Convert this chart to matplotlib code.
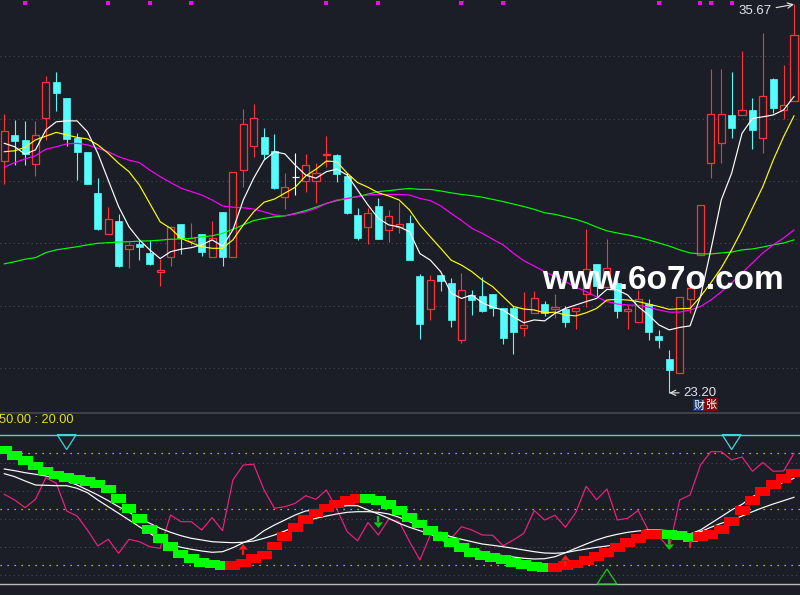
import matplotlib
matplotlib.use('Agg')
import matplotlib.pyplot as plt
from matplotlib.patches import Rectangle, Polygon
from matplotlib.transforms import blended_transform_factory

# ---- daily K-line data, bar index 0..76 ----
opens = [30.65, 31.48, 31.32, 30.54, 32.01, 33.17, 32.66, 31.39, 30.93, 29.61,
         28.29, 28.72, 27.81, 27.99, 27.69, 27.09, 27.57, 28.62, 28.08, 28.30,
         27.57, 29.00, 27.55, 30.34, 31.13, 31.41, 30.96, 29.48, 30.12, 29.99,
         29.99, 30.83, 30.83, 30.16, 28.91, 28.51, 29.20, 28.42, 28.51, 28.65,
         26.95, 25.88, 26.98, 26.73, 24.91, 26.33, 26.31, 26.37, 25.92, 25.92,
         25.27, 25.75, 26.05, 25.90, 25.88, 25.84, 26.36, 27.34, 26.61, 26.73,
         25.84, 25.48, 26.04, 25.03, 24.29, 23.85, 26.20, 27.62, 30.59, 31.21,
         32.12, 32.11, 32.28, 31.37, 33.27, 32.29, 32.58]
highs = [32.15, 31.96, 31.93, 31.93, 33.37, 33.49, 32.66, 31.54, 30.93, 30.10,
         29.17, 28.94, 28.05, 28.11, 28.11, 27.50, 28.57, 28.62, 28.65, 28.30,
         28.72, 29.00, 30.28, 32.31, 32.47, 31.70, 31.51, 30.26, 30.91, 30.87,
         30.58, 31.44, 30.88, 30.27, 29.13, 29.13, 29.45, 29.07, 29.33, 28.90,
         27.01, 26.98, 26.98, 26.88, 27.04, 26.50, 26.92, 26.37, 25.92, 26.00,
         26.44, 26.47, 26.15, 26.36, 25.99, 25.91, 28.46, 27.34, 28.13, 26.82,
         26.02, 26.50, 26.20, 25.22, 24.57, 26.29, 26.63, 29.23, 33.60, 33.60,
         33.50, 34.17, 32.65, 34.75, 33.31, 33.72, 35.67]
lows = [29.90, 30.51, 30.51, 30.17, 31.32, 32.26, 31.13, 30.03, 29.91, 28.43,
        28.29, 27.25, 27.22, 27.46, 27.30, 26.64, 27.28, 27.65, 27.95, 27.60,
        27.57, 27.28, 27.55, 29.82, 30.78, 30.71, 29.73, 29.11, 29.56, 29.66,
        29.30, 30.46, 29.98, 28.93, 28.12, 27.99, 28.15, 28.05, 28.34, 27.45,
        24.94, 25.55, 26.48, 25.32, 24.81, 25.71, 25.80, 25.67, 24.78, 24.46,
        25.03, 25.75, 25.68, 25.61, 25.32, 25.24, 25.96, 26.31, 26.61, 25.61,
        25.24, 25.48, 24.90, 24.63, 23.20, 23.83, 25.75, 27.62, 30.11, 30.57,
        31.37, 32.11, 31.04, 30.91, 32.17, 31.98, 32.58]
closes = [31.61, 31.28, 30.87, 31.47, 33.17, 32.83, 31.36, 30.94, 29.91, 28.46,
          28.77, 27.28, 27.94, 27.89, 27.34, 27.14, 28.51, 28.18, 28.16, 27.72,
          28.16, 27.57, 30.28, 31.83, 32.01, 30.88, 29.78, 29.80, 30.12, 30.50,
          30.25, 30.87, 30.23, 28.98, 28.18, 28.96, 28.15, 28.87, 28.61, 27.45,
          25.41, 26.82, 26.80, 25.55, 26.49, 26.18, 25.84, 25.93, 24.97, 25.16,
          25.37, 26.23, 25.75, 25.96, 25.48, 25.91, 27.18, 26.64, 27.20, 25.84,
          25.90, 26.20, 25.14, 24.89, 23.93, 26.29, 26.56, 29.23, 32.14, 32.14,
          31.71, 32.27, 31.65, 32.72, 32.35, 32.43, 34.69]

# moving averages
ma5 = [31.21, 31.10, 30.86, 31.00, 31.64, 31.90, 31.93, 31.93, 31.58, 30.89,
       30.03, 29.18, 28.53, 28.11, 27.79, 27.51, 27.73, 27.81, 27.86, 27.95,
       28.11, 27.91, 28.43, 29.39, 30.09, 30.67, 30.94, 30.87, 30.51, 30.19,
       30.09, 30.30, 30.38, 30.19, 29.71, 29.23, 28.80, 28.59, 28.53, 28.37,
       27.67, 27.46, 27.09, 26.40, 26.23, 26.34, 26.09, 25.95, 25.86, 25.64,
       25.45, 25.54, 25.51, 25.75, 25.91, 26.02, 26.13, 26.23, 26.52, 26.50,
       26.34, 25.97, 25.70, 25.38, 25.22, 25.30, 25.35, 26.29, 27.79, 29.39,
       30.25, 31.53, 32.01, 32.06, 32.12, 32.28, 32.71]
ma10 = [30.94, 30.97, 31.08, 31.32, 31.44, 31.56, 31.48, 31.40, 31.35, 31.16,
        30.89, 30.57, 30.30, 29.87, 29.28, 28.69, 28.48, 28.16, 28.02, 27.89,
        27.84, 27.84, 28.11, 28.59, 29.01, 29.32, 29.42, 29.61, 29.80, 30.16,
        30.38, 30.64, 30.62, 30.25, 29.95, 29.80, 29.62, 29.52, 29.39, 29.07,
        28.59, 28.21, 27.84, 27.46, 27.30, 27.09, 26.82, 26.61, 26.29, 25.97,
        25.89, 25.86, 25.77, 25.79, 25.70, 25.67, 25.77, 25.91, 26.18, 26.20,
        26.18, 26.13, 26.05, 25.97, 25.88, 25.90, 25.91, 26.29, 26.73, 27.21,
        27.79, 28.43, 29.13, 29.82, 30.67, 31.42, 32.09]
ma30 = [30.44, 30.59, 30.71, 30.81, 31.02, 31.10, 31.19, 31.21, 31.16, 31.05,
        30.94, 30.78, 30.67, 30.59, 30.35, 30.14, 29.95, 29.77, 29.66, 29.55,
        29.39, 29.20, 29.16, 29.14, 29.10, 29.01, 28.91, 28.88, 28.94, 29.01,
        29.12, 29.28, 29.39, 29.44, 29.50, 29.55, 29.57, 29.57, 29.57, 29.55,
        29.44, 29.37, 29.20, 28.96, 28.73, 28.48, 28.32, 28.13, 27.95, 27.68,
        27.44, 27.27, 27.09, 26.93, 26.77, 26.59, 26.45, 26.28, 26.13, 26.05,
        26.02, 26.01, 25.95, 25.86, 25.79, 25.79, 25.86, 25.97, 26.18, 26.44,
        26.73, 27.05, 27.37, 27.69, 27.95, 28.17, 28.43]
ma60 = [27.34, 27.41, 27.49, 27.54, 27.70, 27.79, 27.84, 27.89, 27.95, 28.00,
        28.02, 28.04, 28.05, 28.07, 28.08, 28.10, 28.13, 28.14, 28.16, 28.21,
        28.24, 28.32, 28.45, 28.59, 28.73, 28.80, 28.85, 28.88, 28.96, 29.05,
        29.16, 29.28, 29.37, 29.44, 29.50, 29.58, 29.66, 29.69, 29.73, 29.76,
        29.73, 29.73, 29.68, 29.62, 29.57, 29.53, 29.48, 29.41, 29.34, 29.26,
        29.18, 29.09, 28.98, 28.93, 28.85, 28.77, 28.66, 28.52, 28.40, 28.33,
        28.27, 28.20, 28.11, 28.01, 27.91, 27.79, 27.69, 27.66, 27.66, 27.69,
        27.72, 27.79, 27.82, 27.88, 27.95, 28.01, 28.11]

price_grid = [24, 26, 28, 30, 32, 34]
event_idx = [2, 10, 14, 18, 31, 36, 44, 48, 63, 67, 68, 70]

# ---- lower indicator panel ----
band = [81.76, 78.92, 76.24, 73.19, 70.51, 68.37, 67.14, 65.85, 64.78, 63.55,
        60.87, 55.89, 50.54, 45.18, 39.29, 34.25, 29.97, 26.06, 23.54, 21.61,
        20.70, 20.01, 20.01, 21.24, 23.54, 25.52, 30.34, 35.32, 40.15, 44.54,
        48.02, 50.70, 52.84, 54.61, 55.52, 55.52, 54.61, 52.57, 49.36, 45.72,
        42.13, 38.48, 35.27, 32.11, 29.38, 26.97, 25.15, 24.08, 23.01, 21.61,
        20.54, 19.52, 18.88, 18.88, 19.85, 20.70, 22.42, 24.56, 26.81, 29.49,
        32.27, 34.36, 36.34, 36.34, 36.29, 35.81, 35.00, 35.22, 36.34, 39.18,
        43.57, 49.20, 54.87, 59.69, 63.44, 66.60, 69.44]
band_state = ("GGGGGGGGGG" "GGGGGGGGGG" "GG"
              "RRRRRRRRRR" "RRR"
              "GGGGGGGGGG" "GGGGGGGG"
              "RRRRRRRRRR" "R"
              "GGG"
              "RRRRRRRRRR")
osc = [58.03, 54.98, 50.86, 55.36, 66.92, 63.93, 49.09, 46.41, 38.91, 30.34,
       33.93, 26.43, 33.93, 32.65, 29.97, 29.11, 46.95, 43.36, 43.36, 38.91,
       45.50, 38.54, 65.69, 73.73, 74.10, 60.34, 50.54, 51.39, 53.21, 57.28,
       55.36, 60.34, 50.16, 38.00, 33.13, 42.93, 36.23, 44.75, 43.36, 32.70,
       22.85, 36.23, 38.00, 34.47, 40.68, 38.91, 36.23, 36.07, 30.50, 33.56,
       37.15, 49.36, 44.27, 46.79, 40.36, 48.29, 62.32, 55.14, 60.87, 44.27,
       45.18, 49.36, 38.54, 35.32, 29.27, 54.98, 57.66, 73.73, 80.85, 80.85,
       76.40, 78.01, 70.35, 75.07, 70.35, 70.51, 79.99]
fast_line = [69.07, 67.46, 65.16, 63.01, 62.85, 62.64, 62.64, 61.25, 58.89, 54.98,
             51.39, 47.86, 44.27, 40.68, 37.15, 33.56, 31.25, 29.65, 28.58, 27.67,
             26.97, 27.29, 29.43, 32.11, 34.47, 38.54, 41.59, 44.27, 46.95, 49.09,
             49.63, 50.54, 51.39, 51.93, 51.93, 49.63, 47.48, 45.18, 42.50, 40.36,
             38.54, 36.77, 33.56, 31.79, 29.97, 28.58, 27.29, 26.06, 25.15, 24.45,
             23.76, 23.38, 23.54, 24.61, 26.75, 29.11, 31.41, 33.56, 35.32, 36.61,
             37.68, 38.38, 38.91, 38.91, 38.54, 37.68, 36.77, 38.91, 42.50, 46.04,
             49.63, 52.68, 56.75, 59.43, 62.10, 64.46, 66.60]
slow_line = [71.58, 70.67, 69.60, 68.75, 67.84, 66.60, 65.16, 63.01, 60.34, 57.66,
             54.61, 51.39, 48.39, 45.18, 42.50, 39.82, 37.68, 35.86, 34.47, 33.56,
             32.65, 32.33, 32.11, 32.33, 33.02, 34.47, 36.23, 38.38, 40.68, 43.73,
             45.18, 46.41, 47.48, 48.39, 48.71, 48.71, 48.39, 47.48, 45.72, 43.36,
             41.22, 38.91, 37.15, 35.32, 33.93, 32.65, 31.41, 30.72, 29.97, 29.11,
             28.20, 27.29, 26.59, 26.43, 26.75, 27.83, 28.74, 29.65, 30.34, 31.25,
             32.65, 33.93, 35.00, 35.70, 36.23, 36.40, 36.61, 38.00, 40.36, 42.50,
             44.27, 46.41, 48.71, 50.86, 52.84, 54.61, 56.43]

buy_idx = [23, 54]
buy_level = [31.4, 25.5]
sell_idx = [36, 64]
sell_level = [40.0, 28.2]
tick_idx = [66]
tick_level = [32.5]
top_tri_idx = [6, 70]
bottom_tri_idx = [58]

BG = '#1b1e27'
RED = '#ff3333'
CYAN = '#54fcfc'
GRID = '#474b56'
W, H = 800, 595

fig = plt.figure(figsize=(8, 5.95), dpi=100, facecolor=BG)
ax1 = fig.add_axes([0, 183 / H, 1, 412 / H])
ax2 = fig.add_axes([0, 0, 1, 183 / H])
for ax in (ax1, ax2):
    ax.set_facecolor(BG)
    ax.set_xlim(-0.414, 76.58)
    ax.set_xticks([])
    ax.set_yticks([])
    for s in ax.spines.values():
        s.set_visible(False)
ax1.set_ylim(22.585, 35.81)
ax2.set_ylim(4.1, 102.1)

# main panel grid
for g in price_grid:
    ax1.axhline(g, color=GRID, lw=0.8, dashes=(1, 3.0), zorder=0)

# candles
bw = 0.68
for i in range(len(opens)):
    o, h, l, c = opens[i], highs[i], lows[i], closes[i]
    if c > o:
        ax1.vlines(i, c, h, color=RED, lw=0.8, zorder=2)
        ax1.vlines(i, l, o, color=RED, lw=0.8, zorder=2)
        ax1.add_patch(Rectangle((i - bw / 2, o), bw, c - o, facecolor=BG,
                                edgecolor=RED, lw=0.9, zorder=3))
    elif c < o:
        ax1.vlines(i, l, h, color=CYAN, lw=0.8, zorder=2)
        ax1.add_patch(Rectangle((i - bw / 2, c), bw, o - c, facecolor=CYAN,
                                edgecolor=CYAN, lw=0.5, zorder=3))
    else:
        ax1.vlines(i, l, h, color='white', lw=0.8, zorder=2)
        ax1.hlines(o, i - bw / 2, i + bw / 2, color='white', lw=0.9, zorder=3)

x = list(range(len(opens)))
ax1.plot(x, ma60, color='#00ff00', lw=0.85, zorder=4)
ax1.plot(x, ma30, color='#ff00ff', lw=0.85, zorder=4)
ax1.plot(x, ma10, color='#ffff00', lw=0.85, zorder=4)
ax1.plot(x, ma5, color='#ffffff', lw=0.85, zorder=4)

# event markers along the top edge
tr = blended_transform_factory(ax1.transData, ax1.transAxes)
ax1.scatter(event_idx, [0.9925] * len(event_idx), transform=tr, marker='s',
            s=7, color='#ff00ff', lw=0, zorder=5)

# high / low labels
hi = highs.index(max(highs))
lo = lows.index(min(lows))
ax1.annotate('%.2f' % highs[hi], xy=(hi, highs[hi]), xytext=(-22, -7),
             textcoords='offset pixels', ha='right', va='center',
             color='#dfe6f0', fontsize=9.5, family='Liberation Sans',
             arrowprops=dict(arrowstyle='->', color='#e8e8e8', lw=0.8,
                             shrinkA=1, shrinkB=0), zorder=6)
ax1.annotate('%.2f' % lows[lo], xy=(lo, lows[lo]), xytext=(14, 0),
             textcoords='offset pixels', ha='left', va='center',
             color='#dfe6f0', fontsize=9.5, family='Liberation Sans',
             arrowprops=dict(arrowstyle='->', color='#e8e8e8', lw=0.8,
                             shrinkA=1, shrinkB=0), zorder=6)

# ---- lower panel ----
for g in [75, 60, 45, 30, 15]:
    ax2.axhline(g, color=GRID, lw=0.8, dashes=(1, 3.0), zorder=0)
for g in [80, 50, 20]:
    ax2.axhline(g, color='#e6e600', lw=0.9, dashes=(1, 4.6), zorder=0)
ax2.axhline(90, color='#3fd8d8', lw=1.0, zorder=1)
ax2.axhline(10, color='#b8b8b8', lw=1.0, zorder=1)
ax2.axhline(101.7, color='#444853', lw=1.2, zorder=1)

ax2.plot(x, osc, color='#f0207f', lw=0.85, zorder=2)
ax2.plot(x, slow_line, color='white', lw=0.85, zorder=2)
ax2.plot(x, fast_line, color='white', lw=0.85, zorder=2)

for i, v in enumerate(band):
    col = '#00ff00' if band_state[i] == 'G' else '#ff0000'
    ax2.add_patch(Rectangle((i - 0.72, v - 2.4), 1.44, 4.8, facecolor=col,
                            edgecolor='none', zorder=3))

for i, v in zip(buy_idx, buy_level):
    ax2.add_patch(Polygon([(i - 0.45, v - 3.0), (i + 0.45, v - 3.0), (i, v)],
                          closed=True, facecolor='#ff1a1a', edgecolor='none', zorder=5))
    ax2.vlines(i, v - 6.0, v - 3.0, color='#ff1a1a', lw=1.6, zorder=5)
for i, v in zip(sell_idx, sell_level):
    ax2.add_patch(Polygon([(i - 0.45, v + 3.0), (i + 0.45, v + 3.0), (i, v)],
                          closed=True, facecolor='#10c810', edgecolor='none', zorder=5))
    ax2.vlines(i, v + 3.0, v + 6.2, color='#10c810', lw=1.6, zorder=5)
for i, v in zip(tick_idx, tick_level):
    ax2.vlines(i, v - 3.3, v, color='#ff1a1a', lw=1.4, zorder=5)
    ax2.hlines(v, i - 0.15, i + 0.15, color='#ff1a1a', lw=1.2, zorder=5)

for i in top_tri_idx:
    ax2.add_patch(Polygon([(i - 0.92, 90), (i + 0.92, 90), (i, 82)], closed=True,
                          fill=False, edgecolor='#3fd8d8', lw=0.9, zorder=4))
for i in bottom_tri_idx:
    ax2.add_patch(Polygon([(i - 0.95, 10), (i + 0.95, 10), (i, 18)], closed=True,
                          fill=False, edgecolor='#10d010', lw=0.9, zorder=4))

fig.text(-1 / W, 1 - 420 / H, '50.00 : 20.00', ha='left', va='center',
         color='#e6e020', fontsize=9.2, family='Liberation Sans')

# report badge under the low
fig.patches.append(Rectangle((693.3 / W, 1 - 411 / H), 10.7 / W, 11.7 / H,
                             transform=fig.transFigure, facecolor='#163a78',
                             edgecolor='none'))
fig.patches.append(Rectangle((704 / W, 1 - 411 / H), 13.7 / W, 13 / H,
                             transform=fig.transFigure, facecolor='#7d0d0d',
                             edgecolor='none'))
fig.text(698.7 / W, 1 - 405.5 / H, '财', ha='center', va='center', color='white',
         fontsize=8, family='Noto Sans CJK SC')
fig.text(711 / W, 1 - 405 / H, '张', ha='center', va='center', color='white',
         fontsize=8, family='Noto Sans CJK SC')

# site watermark
fig.text(662.5 / W, 1 - 289 / H, 'www.6o7o.com', ha='center', va='baseline',
         color='white', fontsize=24, fontweight='bold', family='Liberation Sans')

fig.savefig('out.png', dpi=100, facecolor=BG)
